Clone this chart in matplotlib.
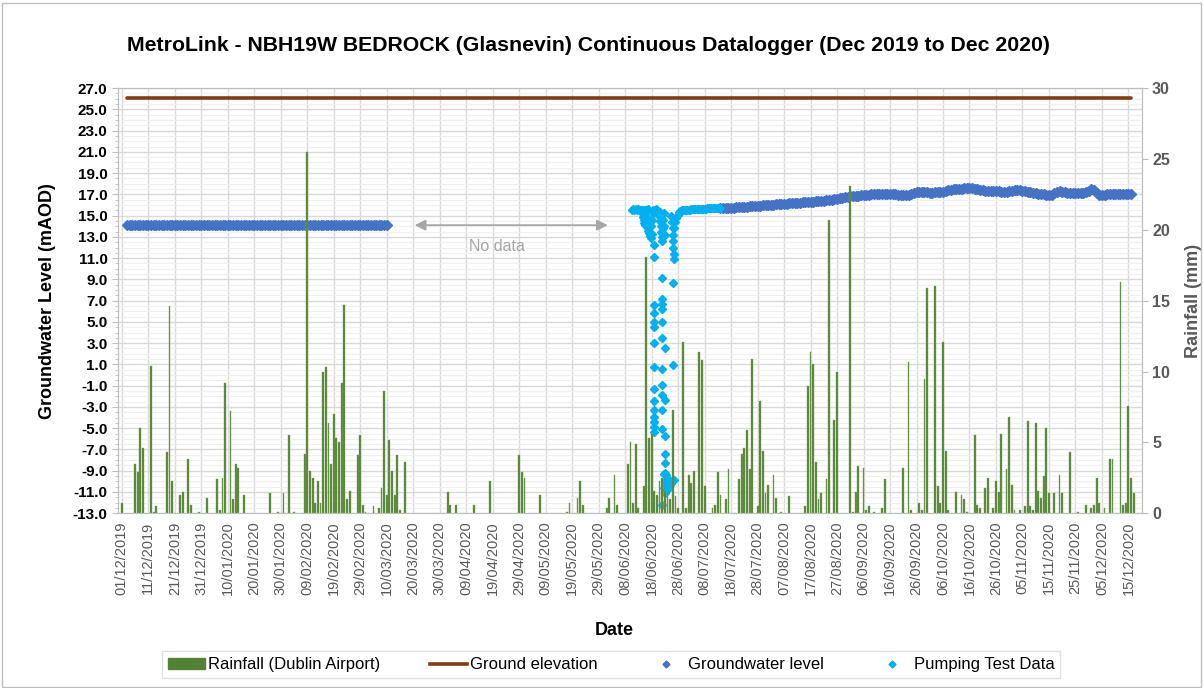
import numpy as np
import pandas as pd
import matplotlib
matplotlib.use('Agg')
import matplotlib.pyplot as plt
import matplotlib.dates as mdates
from matplotlib.ticker import MultipleLocator
from matplotlib.lines import Line2D
from matplotlib.patches import Patch, Rectangle

plt.rcParams['font.family'] = ['Liberation Sans', 'DejaVu Sans']

start = pd.Timestamp('2019-12-01')

# daily rainfall, Dublin Airport (day offset from 01/12/2019, mm)
rain_day = [0, 5, 6, 7, 8, 11, 12, 13, 17, 18, 19, 22, 23, 25, 26, 29, 32, 36, 37, 38,
            39, 41, 42, 43, 44, 46, 56, 59, 61, 63, 65, 69, 70, 71, 72, 73, 74, 75, 76, 77,
            78, 79, 80, 81, 82, 83, 84, 85, 86, 89, 90, 91, 92, 95, 97, 98, 99, 100, 101, 102,
            103, 104, 105, 107, 123, 124, 126, 133, 139, 150, 151, 152, 158, 168, 169, 172, 173, 174, 183, 184,
            186, 187, 191, 192, 193, 194, 195, 197, 198, 199, 200, 201, 202, 203, 204, 205, 206, 207, 208, 209,
            210, 212, 213, 214, 215, 216, 218, 219, 220, 223, 224, 225, 226, 228, 229, 233, 234, 235, 236, 237,
            238, 240, 241, 242, 243, 244, 246, 247, 249, 252, 258, 259, 260, 261, 262, 263, 264, 266, 267, 269,
            270, 275, 276, 277, 278, 280, 281, 282, 284, 287, 288, 295, 297, 298, 301, 302, 303, 304, 307, 308,
            309, 310, 311, 312, 315, 317, 318, 319, 322, 323, 324, 326, 327, 329, 330, 331, 332, 334, 335, 336,
            337, 339, 341, 342, 343, 344, 345, 346, 347, 348, 349, 350, 352, 354, 355, 358, 361, 364, 366, 367,
            368, 369, 371, 373, 374, 377, 378, 379, 380, 381, 382]
rain_mm = [0.7, 3.5, 2.9, 6.0, 4.6, 10.4, 0.1, 0.5, 4.3, 14.6, 2.3, 1.3, 1.5, 3.8, 0.55, 0.1, 1.1, 2.4, 0.2, 2.5,
           9.2, 7.2, 1.0, 3.5, 3.2, 1.3, 1.4, 0.1, 1.4, 5.5, 0.1, 4.2, 25.5, 3.0, 2.5, 0.7, 2.3, 0.7, 10.0, 10.3,
           6.4, 3.5, 7.0, 5.3, 5.0, 9.2, 14.7, 1.0, 1.6, 4.1, 5.5, 0.6, 0.1, 0.5, 0.4, 1.8, 8.6, 1.3, 5.2, 3.0,
           1.3, 4.1, 0.2, 3.6, 1.5, 0.55, 0.55, 0.55, 2.3, 4.1, 2.9, 2.5, 1.3, 0.1, 0.7, 1.1, 2.3, 0.6, 0.4, 1.1,
           2.7, 0.55, 3.5, 5.0, 0.7, 4.9, 0.4, 1.9, 18.1, 5.3, 5.6, 1.6, 1.3, 2.3, 2.5, 1.6, 1.6, 1.0, 7.3, 1.2,
           0.4, 12.1, 0.4, 2.7, 2.1, 3.0, 11.4, 10.8, 1.9, 0.4, 0.55, 2.9, 1.3, 1.0, 3.1, 2.4, 4.2, 4.6, 5.9, 3.1,
           10.9, 0.5, 7.9, 4.4, 1.4, 2.0, 2.7, 1.1, 0.1, 1.2, 0.5, 9.0, 11.4, 10.5, 3.6, 1.0, 1.4, 2.4, 20.7, 6.6,
           10.0, 23.1, 0.1, 1.5, 3.3, 3.2, 0.2, 0.5, 0.1, 0.4, 2.4, 3.2, 10.7, 0.2, 0.7, 0.2, 9.5, 15.9, 16.0, 1.9,
           0.7, 12.1, 4.4, 0.2, 1.5, 1.3, 1.0, 0.1, 5.5, 0.55, 0.4, 1.8, 2.5, 0.4, 2.3, 1.5, 5.6, 3.1, 6.8, 2.0,
           0.2, 0.2, 0.5, 6.5, 0.5, 0.2, 6.4, 1.6, 1.1, 2.6, 6.0, 1.4, 1.4, 2.7, 1.4, 4.3, 0.1, 0.6, 0.4, 0.6,
           2.5, 0.7, 0.4, 3.8, 3.8, 16.3, 0.6, 0.7, 7.6, 2.5, 1.4]

# ground elevation (mAOD)
ground_day = [2, 381]
ground_level = [26.07, 26.07]

# groundwater level, first logger run (daily, from 03/12/2019)
gw1_first_day = 2
gw1_level = [14.10, 14.11, 14.10, 14.10, 14.09, 14.10, 14.11, 14.10, 14.10, 14.10,
             14.09, 14.10, 14.10, 14.11, 14.10, 14.10, 14.10, 14.09, 14.10, 14.10,
             14.11, 14.10, 14.10, 14.10, 14.09, 14.10, 14.10, 14.11, 14.10, 14.10,
             14.10, 14.10, 14.09, 14.10, 14.11, 14.10, 14.10, 14.10, 14.09, 14.10,
             14.10, 14.11, 14.10, 14.10, 14.10, 14.09, 14.10, 14.10, 14.11, 14.10,
             14.10, 14.10, 14.09, 14.10, 14.10, 14.11, 14.10, 14.10, 14.10, 14.09,
             14.10, 14.10, 14.11, 14.10, 14.10, 14.10, 14.09, 14.10, 14.10, 14.11,
             14.10, 14.10, 14.10, 14.09, 14.10, 14.10, 14.11, 14.10, 14.10, 14.10,
             14.09, 14.10, 14.10, 14.11, 14.10, 14.10, 14.10, 14.09, 14.10, 14.10,
             14.11, 14.10, 14.10, 14.10, 14.09, 14.10, 14.10, 14.11, 14.10]

# groundwater level, second logger run (daily, from 13/07/2020)
gw2_first_day = 226
gw2_level = [15.70, 15.71, 15.72, 15.73, 15.74, 15.76, 15.78, 15.80, 15.82, 15.84,
             15.85, 15.87, 15.88, 15.90, 15.92, 15.94, 15.96, 15.98, 16.00, 16.02,
             16.04, 16.06, 16.08, 16.10, 16.12, 16.14, 16.16, 16.18, 16.20, 16.21,
             16.22, 16.24, 16.26, 16.28, 16.30, 16.32, 16.34, 16.36, 16.38, 16.40,
             16.43, 16.46, 16.50, 16.55, 16.60, 16.65, 16.70, 16.74, 16.78, 16.80,
             16.82, 16.85, 16.88, 16.90, 16.93, 16.95, 16.97, 17.00, 17.02, 17.03,
             17.04, 17.05, 17.05, 17.06, 17.05, 17.03, 17.00, 16.98, 16.97, 16.96,
             16.95, 16.97, 17.05, 17.15, 17.22, 17.25, 17.25, 17.22, 17.18, 17.15,
             17.15, 17.18, 17.20, 17.22, 17.25, 17.35, 17.42, 17.45, 17.48, 17.50,
             17.52, 17.55, 17.58, 17.60, 17.62, 17.60, 17.55, 17.50, 17.45, 17.40,
             17.36, 17.34, 17.32, 17.30, 17.28, 17.27, 17.26, 17.25, 17.25, 17.28,
             17.35, 17.42, 17.45, 17.42, 17.35, 17.28, 17.22, 17.18, 17.15, 17.12,
             17.08, 17.05, 17.00, 16.97, 16.95, 16.98, 17.10, 17.25, 17.30, 17.25,
             17.18, 17.12, 17.10, 17.12, 17.15, 17.15, 17.14, 17.15, 17.20, 17.35,
             17.55, 17.45, 17.15, 16.98, 16.95, 16.97, 17.00, 17.00, 17.02, 17.00,
             17.02, 17.05, 17.05, 17.03, 17.05, 17.08]

# pumping test data (day offset, mAOD)
pump_day = [192.5, 193.0, 193.5, 194.0, 194.5, 195.0, 195.5, 196.0, 196.5, 197.0, 197.5, 198.0, 198.5,
            196.5, 196.8, 197.0, 197.3, 197.6, 197.9, 198.2, 198.5, 198.8, 199.1, 199.4, 199.7, 200.0,
            197.8, 198.4, 199.0, 199.6, 200.1, 200.4, 200.7, 201.0, 201.0,
            201.5, 202.0, 202.5, 202.8, 203.1, 203.4, 203.6, 203.8, 204.0, 204.2, 204.4, 204.6,
            203.2, 204.0, 204.8, 205.0,
            207.5, 207.7, 207.9, 208.0, 208.1, 208.2, 208.3, 208.3, 208.6, 208.9, 209.3, 209.8, 210.3, 210.9, 211.5,
            212.0, 212.5, 213.0, 213.5, 214.0, 214.5, 215.0, 215.5, 216.0, 216.5, 217.0, 217.5, 218.0, 218.5,
            219.0, 219.5, 220.0, 220.5, 221.0, 221.5, 222.0, 222.5, 223.0, 223.5, 224.0, 224.5, 225.0, 225.5, 226.0,
            204.0, 208.2, 204.0, 204.0, 201.0, 204.0, 201.0, 201.0, 204.0, 201.0, 204.0, 201.0, 205.0,
            201.0, 204.0, 208.2, 204.0, 201.0, 204.0, 205.0, 201.0, 204.0, 201.0, 201.0, 201.0, 201.0,
            201.0, 204.0, 205.0, 205.0, 205.0,
            204.8, 205.2, 205.6, 206.0, 206.4, 206.8, 207.2, 207.6, 208.0, 208.5, 204.9, 205.3, 205.7,
            205.1, 205.5, 206.1, 204.7, 205.0, 204.0]
pump_level = [15.55, 15.6, 15.55, 15.6, 15.55, 15.6, 15.5, 15.55, 15.5, 15.55, 15.5, 15.55, 15.6,
              15.2, 14.9, 14.6, 14.3, 14.1, 14.5, 14.0, 13.8, 13.6, 13.4, 13.1, 12.9, 13.3,
              15.0, 14.6, 14.3, 14.0, 14.6, 15.2, 15.5, 12.2, 11.1,
              15.6, 15.5, 15.4, 15.0, 14.5, 14.0, 13.5, 13.0, 12.6, 13.8, 14.6, 15.2,
              15.3, 15.1, 14.0, 13.2,
              15.0, 14.4, 13.8, 13.2, 12.6, 12.0, 11.4, 10.9, 13.8, 14.4, 14.8, 15.1, 15.3, 15.4, 15.5,
              15.5, 15.52, 15.53, 15.55, 15.55, 15.57, 15.58, 15.6, 15.6, 15.6, 15.62, 15.62, 15.63, 15.64,
              15.65, 15.65, 15.66, 15.66, 15.67, 15.67, 15.68, 15.68, 15.69, 15.69, 15.7, 15.7, 15.7, 15.7, 15.72,
              9.1, 8.7, 7.2, 6.7, 6.6, 6.2, 5.8, 5.0, 5.0, 4.5, 3.5, 3.0, 2.5,
              0.8, 0.6, 0.9, -0.9, -1.3, -1.9, -2.3, -2.4, -3.3, -3.3, -3.9, -4.4, -4.9,
              -5.35, -5.1, -5.75, -7.4, -8.3,
              -9.3, -9.2, -9.4, -9.8, -10.2, -10.3, -10.2, -10.0, -9.9, -9.9, -10.0, -10.4, -10.8,
              -11.0, -10.6, -10.5, -10.6, -11.1, -12.2]


def to_dates(days):
    return start + pd.to_timedelta(np.asarray(days, dtype=float), unit='D')


rain_x = to_dates(rain_day)
ground_x = to_dates(ground_day)
gw1_x = to_dates(gw1_first_day + np.arange(len(gw1_level)))
gw2_x = to_dates(gw2_first_day + np.arange(len(gw2_level)))
pump_x = to_dates(pump_day)

fig = plt.figure(figsize=(12.03, 6.88), dpi=100)
fig.patches.append(Rectangle((0.002, 0.002), 0.996, 0.994, transform=fig.transFigure,
                             fill=False, edgecolor='#BFBFBF', linewidth=1))
ax = fig.add_axes([0.098, 0.254, 0.851, 0.618])
ax2 = ax.twinx()   # rainfall columns drawn over the level series, as in the workbook

grid_c = '#D9D9D9'
ax2.bar(rain_x, rain_mm, width=0.7, color='#548235', edgecolor='#7FA860', linewidth=0.3)
ax.plot(ground_x, ground_level, color='#843C0C', linewidth=2.6, solid_capstyle='round')
ax.plot(gw1_x, gw1_level, linestyle='none', marker='D', markersize=4.6, color='#4472C4')
ax.plot(gw2_x, gw2_level, linestyle='none', marker='D', markersize=4.6, color='#4472C4')
ax.plot(pump_x, pump_level, linestyle='none', marker='D', markersize=4.4, color='#00B0F0')

ax.annotate('', xy=(to_dates([109.5])[0], 14.1), xytext=(to_dates([184.5])[0], 14.1),
            arrowprops=dict(arrowstyle='<|-|>', color='#A6A6A6', lw=1.3, mutation_scale=16))
ax.text(to_dates([141.5])[0], 12.1, 'No data', color='#A6A6A6', fontsize=11.5,
        ha='center', va='center')

ax.set_ylim(-13, 27)
ax.set_yticks(np.arange(-13, 28, 2))
ax.yaxis.set_minor_locator(MultipleLocator(0.5))
ax.yaxis.set_major_formatter(plt.FuncFormatter(lambda v, p: '%.1f' % v))
ax2.set_ylim(0, 30)
ax2.yaxis.set_major_locator(MultipleLocator(5))

ax.set_xlim(to_dates([-1.5])[0], to_dates([385])[0])
tick_dates = pd.date_range('2019-12-01', '2020-12-15', freq='10D')
ax.set_xticks(tick_dates)
ax.xaxis.set_major_formatter(mdates.DateFormatter('%d/%m/%Y'))
plt.setp(ax.get_xticklabels(), rotation=90, fontsize=10.5, color='#595959')

ax.grid(which='major', color=grid_c, linewidth=1)
ax.grid(which='minor', axis='y', color='#EFEFEF', linewidth=0.8)
ax.set_axisbelow(True)

for a in (ax, ax2):
    for s in a.spines.values():
        s.set_color('#BFBFBF')
ax.tick_params(axis='y', which='major', labelsize=11, colors='#BFBFBF', labelcolor='black', length=4)
ax.tick_params(axis='y', which='minor', colors='#BFBFBF', length=2)
ax.tick_params(axis='x', colors='#BFBFBF', labelcolor='#595959', length=0, pad=6)
for t in ax.get_yticklabels():
    t.set_fontweight('bold')
ax2.tick_params(axis='y', labelsize=11.5, colors='#BFBFBF', labelcolor='#595959', length=4)
for t in ax2.get_yticklabels():
    t.set_fontweight('bold')

ax.set_ylabel('Groundwater Level (mAOD)', fontsize=13, fontweight='bold', labelpad=12)
ax2.set_ylabel('Rainfall (mm)', fontsize=13, fontweight='bold', color='#595959', labelpad=11)
fig.text(0.511, 0.084, 'Date', fontsize=13, fontweight='bold', ha='center', va='center')
fig.text(0.489, 0.934, 'MetroLink - NBH19W BEDROCK (Glasnevin) Continuous Datalogger (Dec 2019 to Dec 2020)',
         fontsize=15.3, fontweight='bold', ha='center', va='center')

handles = [Patch(facecolor='#548235', edgecolor='#548235'),
           Line2D([], [], color='#843C0C', linewidth=2.6),
           Line2D([], [], linestyle='none', marker='D', markersize=3.5, color='#4472C4'),
           Line2D([], [], linestyle='none', marker='D', markersize=3.5, color='#00B0F0')]
labels = ['Rainfall (Dublin Airport)', 'Ground elevation', 'Groundwater level', 'Pumping Test Data']
leg = fig.legend(handles, labels, ncol=4, loc='center', bbox_to_anchor=(0.508, 0.034),
                 fontsize=12, frameon=True, fancybox=False, edgecolor='#D9D9D9',
                 handlelength=2.2, handleheight=0.6, handletextpad=0.2, columnspacing=3.0,
                 borderpad=0.35, borderaxespad=0)
leg.get_frame().set_linewidth(1)

fig.savefig('out.png', dpi=100)
